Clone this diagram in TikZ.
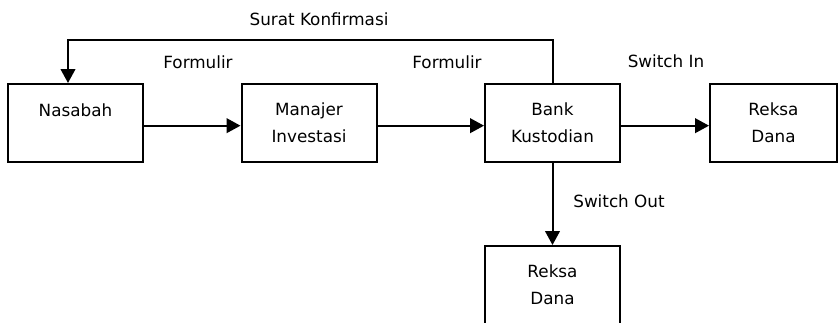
\documentclass[tikz,border=0pt]{standalone}
\usepackage{fontspec}
\setmainfont{DejaVu Sans}
\usetikzlibrary{arrows.meta}

\begin{document}
\begin{tikzpicture}[x=0.75pt,y=-0.75pt,line width=1.5pt,
  font=\fontsize{12.6pt}{20pt}\selectfont,
  kotak/.style={draw,rectangle,inner sep=0pt,minimum width=101.25pt,minimum height=58.5pt,align=center},
  panah/.style={-{Triangle[length=10.5pt,width=11pt]}},
  lbl/.style={inner sep=0pt}]
\useasboundingbox (0,0) rectangle (838,322);
\node[kotak] (nasabah) at (75.5,123) {Nasabah\\\mbox{}};
\node[kotak] (manajer) at (309,123) {Manajer\\Investasi};
\node[kotak] (bank) at (552.5,123) {Bank\\Kustodian};
\node[kotak,minimum width=95.25pt] (reksa1) at (773.5,123) {Reksa\\Dana};
\node[kotak] (reksa2) at (552.5,285) {Reksa\\Dana};
\coordinate (sudut) at (68,40);
\draw[panah] ([yshift=-2pt]nasabah.east) -- ([yshift=-2pt]manajer.west);
\draw[panah] ([yshift=-2pt]manajer.east) -- ([yshift=-2pt]bank.west);
\draw[panah] ([yshift=-2pt]bank.east) -- ([yshift=-2pt]reksa1.west);
\draw[panah] (bank.south) -- (reksa2.north);
\draw[panah] (bank.north) |- (sudut) -- (sudut |- nasabah.north);
\node[lbl] (surat) at (319,19) {Surat Konfirmasi};
\node[lbl] (form1) at (198,62) {Formulir};
\node[lbl] (form2) at (447,62) {Formulir};
\node[lbl] (swin) at (666,61) {Switch In};
\node[lbl] (swout) at (619,201) {Switch Out};
\end{tikzpicture}
\end{document}
